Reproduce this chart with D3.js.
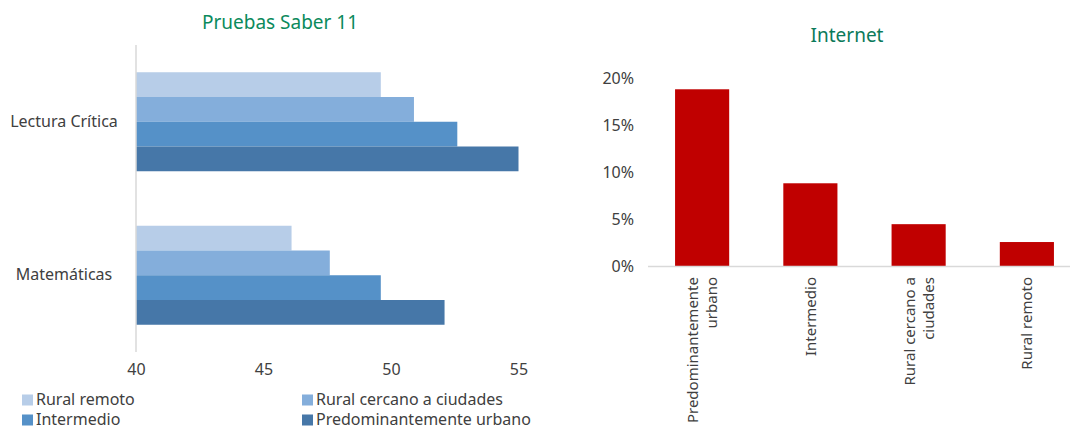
<!DOCTYPE html>
<html><head><meta charset="utf-8">
<script src="https://cdn.jsdelivr.net/npm/d3@7"></script>
<style>body{margin:0;background:#fff}svg{display:block;font-family:"Noto Sans",Roboto,sans-serif}</style>
</head><body><svg id="c" width="1070" height="430"></svg>
<script>
const subjects = ["Lectura Crítica", "Matemáticas"];
const groups = ["Rural remoto", "Rural cercano a ciudades", "Intermedio", "Predominantemente urbano"];
const ruralRemoto = [49.6, 46.1];
const ruralCercano = [50.9, 47.6];
const intermedio = [52.6, 49.6];
const predUrbano = [55.0, 52.1];
const xTicks = [40, 45, 50, 55];

const internetCats = ["Predominantemente urbano", "Intermedio", "Rural cercano a ciudades", "Rural remoto"];
const internetVals = [0.188, 0.088, 0.0445, 0.0255];
const yTicks = [0, 0.05, 0.10, 0.15, 0.20];

const colors = ["#b7cde8", "#84aedb", "#5591c8", "#4677a8"];
const seriesVals = [ruralRemoto, ruralCercano, intermedio, predUrbano];
const txt = "#404040";
const fs = 16;

const svg = d3.select("#c");

// ---- Left chart ----
svg.append("text").attr("x", 280).attr("y", 29).attr("text-anchor", "middle")
  .attr("font-size", 19).attr("fill", "#0b8a5c").text("Pruebas Saber 11");

const x = d3.scaleLinear().domain([40, 55]).range([136, 518.5]);
const y0 = d3.scaleBand().domain(subjects).range([45, 352]).paddingInner(0.355).paddingOuter(0.1775);
const y1 = d3.scaleBand().domain(groups).range([0, y0.bandwidth()]);

const gL = svg.append("g");
subjects.forEach((s, i) => {
  const g = gL.append("g").attr("transform", `translate(0,${y0(s)})`);
  g.selectAll("rect").data(groups).join("rect")
    .attr("x", x(40))
    .attr("y", d => y1(d))
    .attr("height", y1.bandwidth())
    .attr("width", (d, j) => x(seriesVals[j][i]) - x(40))
    .attr("fill", (d, j) => colors[j]);
});
gL.append("line").attr("x1", 136).attr("x2", 136).attr("y1", 45).attr("y2", 352)
  .attr("stroke", "#d9d9d9").attr("stroke-width", 1.5);

gL.selectAll("text.cat").data(subjects).join("text").attr("class", "cat")
  .attr("x", 64).attr("y", d => y0(d) + y0.bandwidth() / 2 + 5)
  .attr("text-anchor", "middle").attr("font-size", fs).attr("fill", txt).text(d => d);

const xAxis = svg.append("g").attr("transform", "translate(0,352)")
  .call(d3.axisBottom(x).tickValues(xTicks).tickSize(0).tickPadding(12));
xAxis.select(".domain").remove();
xAxis.selectAll("text").attr("font-size", fs).attr("fill", txt).attr("font-family", '"Noto Sans",Roboto,sans-serif');

// legend
const legPos = [[22, 405], [302, 405], [22, 425], [302, 425]];
groups.forEach((gname, j) => {
  const [lx, ly] = legPos[j];
  svg.append("rect").attr("x", lx).attr("y", ly - 10.5).attr("width", 11).attr("height", 11).attr("fill", colors[j]);
  svg.append("text").attr("x", lx + 14).attr("y", ly).attr("font-size", fs).attr("fill", txt).text(gname);
});

// ---- Right chart ----
svg.append("text").attr("x", 847).attr("y", 42).attr("text-anchor", "middle")
  .attr("font-size", 19).attr("fill", "#0b7a5a").text("Internet");

const xb = d3.scaleBand().domain(internetCats).range([648, 1081]).paddingInner(0.5).paddingOuter(0.25);
const yb = d3.scaleLinear().domain([0, 0.2]).range([266, 78]);

svg.append("g").selectAll("rect").data(internetCats).join("rect")
  .attr("x", d => xb(d)).attr("width", xb.bandwidth())
  .attr("y", (d, i) => yb(internetVals[i]))
  .attr("height", (d, i) => yb(0) - yb(internetVals[i]))
  .attr("fill", "#c00000");

const yAxis = svg.append("g").attr("transform", "translate(634,0)")
  .call(d3.axisLeft(yb).tickValues(yTicks).tickFormat(d3.format(".0%")).tickSize(0).tickPadding(0));
yAxis.select(".domain").remove();
yAxis.selectAll("text").attr("font-size", fs).attr("fill", txt).attr("font-family", '"Noto Sans",Roboto,sans-serif');

svg.append("line").attr("x1", 648).attr("x2", 1081).attr("y1", 266.5).attr("y2", 266.5)
  .attr("stroke", "#d9d9d9").attr("stroke-width", 1.5);

const labelLines = {
  "Predominantemente urbano": ["Predominantemente", "urbano"],
  "Intermedio": ["Intermedio"],
  "Rural cercano a ciudades": ["Rural cercano a", "ciudades"],
  "Rural remoto": ["Rural remoto"]
};
internetCats.forEach(c => {
  const cx = xb(c) + xb.bandwidth() / 2;
  const lines = labelLines[c];
  const lh = 19;
  const t = svg.append("text").attr("transform", `translate(${cx},277) rotate(-90)`)
    .attr("text-anchor", "end").attr("font-size", 15).attr("fill", txt);
  lines.forEach((l, k) => {
    const off = (k - (lines.length - 1) / 2) * lh + 5.5;
    t.append("tspan").attr("x", 0).attr("y", off).text(l);
  });
});
</script></body></html>
